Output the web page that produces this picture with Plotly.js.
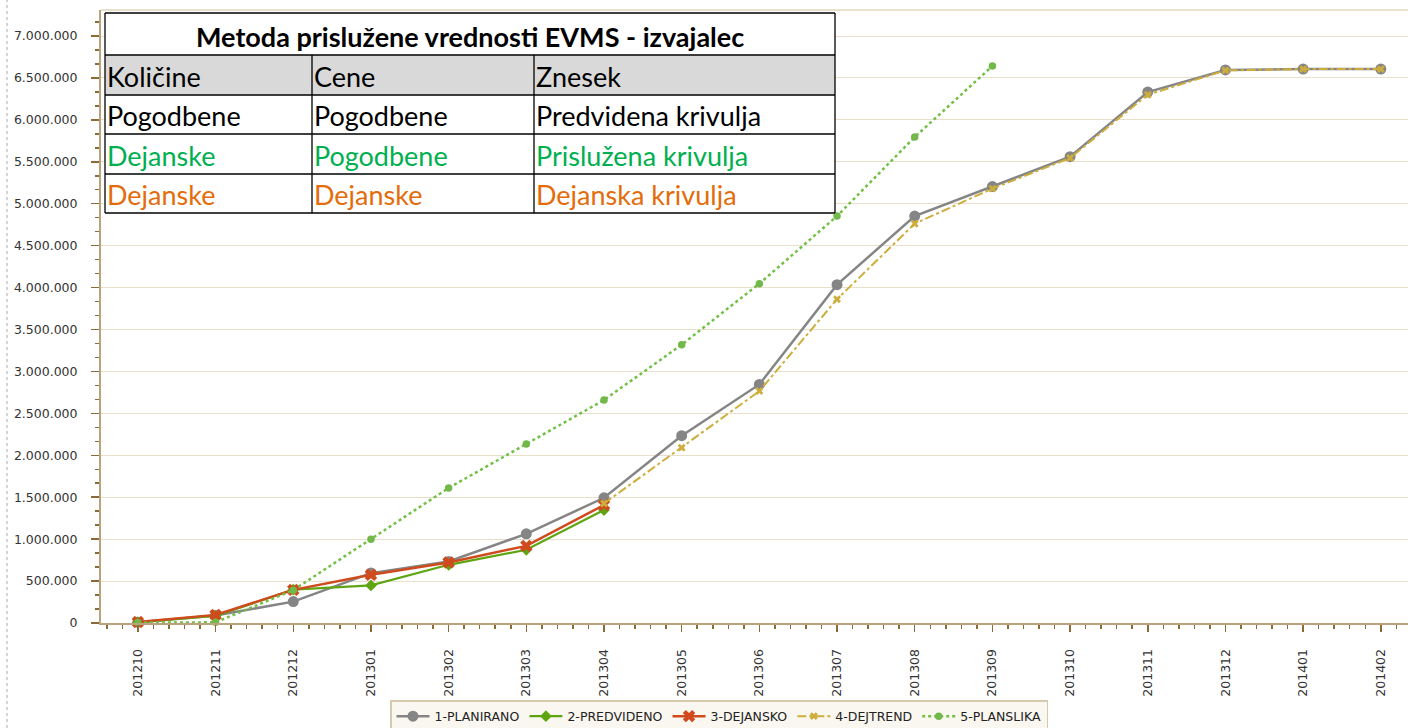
<!DOCTYPE html>
<html>
<head>
<meta charset="utf-8">
<script src="https://cdn.plot.ly/plotly-3.0.1.min.js"></script>
<style>html,body{margin:0;padding:0;background:#fff;}#chart{width:1408px;height:728px;}</style>
</head>
<body>
<div id="chart"></div>
<script>
const categories = ['201210','201211','201212','201301','201302','201303','201304','201305','201306','201307','201308','201309','201310','201311','201312','201401','201402'];
const seriesNames = ['1-PLANIRANO','2-PREDVIDENO','3-DEJANSKO','4-DEJTREND','5-PLANSLIKA'];
const planirano = [10000, 90000, 255000, 595000, 734000, 1063000, 1493000, 2234000, 2845000, 4035000, 4853000, 5205000, 5561000, 6332000, 6595000, 6606000, 6606000];
const predvideno = [8000, 85000, 397000, 448000, 694000, 873000, 1347000];
const dejansko = [12000, 97000, 395000, 575000, 722000, 920000, 1407000];
const dejtrend = [null, null, null, null, null, null, 1425000, 2091000, 2766000, 3861000, 4762000, 5180000, 5545000, 6300000, 6590000, 6605000, 6605000];
const planslika = [5000, 8000, 392000, 1000000, 1610000, 2135000, 2659000, 3318000, 4047000, 4853000, 5795000, 6642000];

const tableTitle = 'Metoda prislužene vrednosti EVMS - izvajalec';
const tableHeader = ['Količine','Cene','Znesek'];
const tableRows = [
  ['Pogodbene','Pogodbene','Predvidena krivulja'],
  ['Dejanske','Pogodbene','Prislužena krivulja'],
  ['Dejanske','Dejanske','Dejanska krivulja']
];
const rowColors = ['#000000','#00b050','#e46c0a'];

const idx = categories.map((c,i)=>i);

// plot area in pixels
const W = 1408, H = 728;
const L = 101, R = 1408, T = 10, B = 623;
const px = x => (x - L) / (R - L);
const py = y => (B - y) / (B - T);

const traces = [
  {name: seriesNames[0], x: idx, y: planirano, mode:'lines+markers', cliponaxis:false,
   line:{color:'#858585', width:2.5}, marker:{symbol:'circle', size:11, color:'#858585'}},
  {name: seriesNames[1], x: idx.slice(0, predvideno.length), y: predvideno, mode:'lines+markers', cliponaxis:false,
   line:{color:'#5fa512', width:2.2}, marker:{symbol:'diamond', size:9, color:'#5fa512'}},
  {name: seriesNames[2], x: idx.slice(0, dejansko.length), y: dejansko, mode:'lines+markers', cliponaxis:false,
   line:{color:'#cf4a1c', width:2.5}, marker:{symbol:'x', size:11, color:'#cf4a1c'}},
  {name: seriesNames[3], x: idx, y: dejtrend, mode:'lines+markers', cliponaxis:false, connectgaps:false,
   line:{color:'#cdae3c', width:2, dash:'dashdot'}, marker:{symbol:'x', size:7, color:'#cdae3c'}},
  {name: seriesNames[4], x: idx.slice(0, planslika.length), y: planslika, mode:'lines+markers', cliponaxis:false,
   line:{color:'#72c043', width:2.5, dash:'dot'}, marker:{symbol:'circle', size:7.5, color:'#72b84a'}}
];

const shapes = [];
const annotations = [];
const tx0 = 105, tx1 = 835;
const rowsY = [13, 55, 95, 134, 174, 213];
const colsX = [105, 312, 534, 835];
shapes.push({type:'rect', xref:'paper', yref:'paper', layer:'above', x0:px(tx0), x1:px(tx1), y0:py(rowsY[5]), y1:py(rowsY[0]), fillcolor:'#ffffff', line:{width:0}});
shapes.push({type:'rect', xref:'paper', yref:'paper', layer:'above', x0:px(tx0), x1:px(tx1), y0:py(rowsY[2]), y1:py(rowsY[1]), fillcolor:'#d9d9d9', line:{width:0}});
rowsY.forEach(y => shapes.push({type:'line', xref:'paper', yref:'paper', layer:'above', x0:px(tx0), x1:px(tx1), y0:py(y), y1:py(y), line:{color:'#000', width:1.3}}));
colsX.forEach((x,i) => shapes.push({type:'line', xref:'paper', yref:'paper', layer:'above', x0:px(x), x1:px(x), y0:py(rowsY[(i===0||i===3)?0:1]), y1:py(rowsY[5]), line:{color:'#000', width:1.3}}));
shapes.push({type:'line', xref:'paper', yref:'paper', x0:px(7), x1:px(7), y0:py(728), y1:py(0), line:{color:'#aaaaaa', width:1, dash:'dot'}});
shapes.push({type:'line', xref:'paper', yref:'paper', x0:0, x1:1, y0:1, y1:1, line:{color:'#e2d6bd', width:1.5}});

const tfont = {family:'Lato, "Open Sans", sans-serif', size:27};
annotations.push({xref:'paper', yref:'paper', x:px((tx0+tx1)/2), y:py(36), xanchor:'center', yanchor:'middle', showarrow:false,
  text:'<b>'+tableTitle+'</b>', font:Object.assign({}, tfont, {color:'#000'})});
tableHeader.forEach((t,i) => annotations.push({xref:'paper', yref:'paper', x:px(colsX[i]), y:py(76), xanchor:'left', yanchor:'middle', showarrow:false, text:t, font:Object.assign({}, tfont, {color:'#000'})}));
tableRows.forEach((row,r) => row.forEach((t,i) => annotations.push({xref:'paper', yref:'paper', x:px(colsX[i]), y:py((rowsY[r+2]+rowsY[r+3])/2+1), xanchor:'left', yanchor:'middle', showarrow:false, text:t, font:Object.assign({}, tfont, {color:rowColors[r]})})));

const axisFont = {family:'"DejaVu Sans", Verdana, sans-serif', size:12.5, color:'#333333'};
const layout = {
  width:W, height:H,
  margin:{l:L, r:W-R, t:T, b:H-B, pad:0},
  paper_bgcolor:'#ffffff', plot_bgcolor:'#ffffff',
  separators:',.',
  showlegend:true,
  legend:{orientation:'h', xref:'container', yref:'container', x:719/W, xanchor:'center', y:(H-700)/H, yanchor:'top',
    bgcolor:'#faf7f1', bordercolor:'#d6c9ad', borderwidth:1.5,
    font:{family:'"DejaVu Sans", Verdana, sans-serif', size:12.5, color:'#222'}, itemwidth:33, tracegroupgap:0},
  xaxis:{type:'linear', range:[-0.475, 16.35], tickvals:idx, ticktext:categories, tickangle:-90,
    ticks:'outside', ticklen:7, tickwidth:1.5, tickcolor:'#8a6b35', ticklabelstandoff:12,
    showline:true, linecolor:'#b8a37c', linewidth:2, showgrid:false, zeroline:false, tickfont:axisFont, automargin:false,
    minor:{tick0:0, dtick:0.2, ticks:'outside', ticklen:4, tickcolor:'#8a6b35', showgrid:false}},
  yaxis:{range:[0, 7310000], tick0:0, dtick:500000, tickformat:',d',
    ticks:'outside', ticklen:8, tickwidth:1.5, tickcolor:'#8a6b35', ticklabelstandoff:11,
    showline:true, linecolor:'#b8a37c', linewidth:2, showgrid:true, gridcolor:'#e9dfcb', gridwidth:1,
    zeroline:false, tickfont:axisFont, automargin:false,
    minor:{tick0:0, dtick:500000/3, ticks:'outside', ticklen:4, tickcolor:'#8a6b35', showgrid:false}},
  shapes:shapes, annotations:annotations
};
Plotly.newPlot('chart', traces, layout, {displayModeBar:false, staticPlot:true});
</script>
</body>
</html>
